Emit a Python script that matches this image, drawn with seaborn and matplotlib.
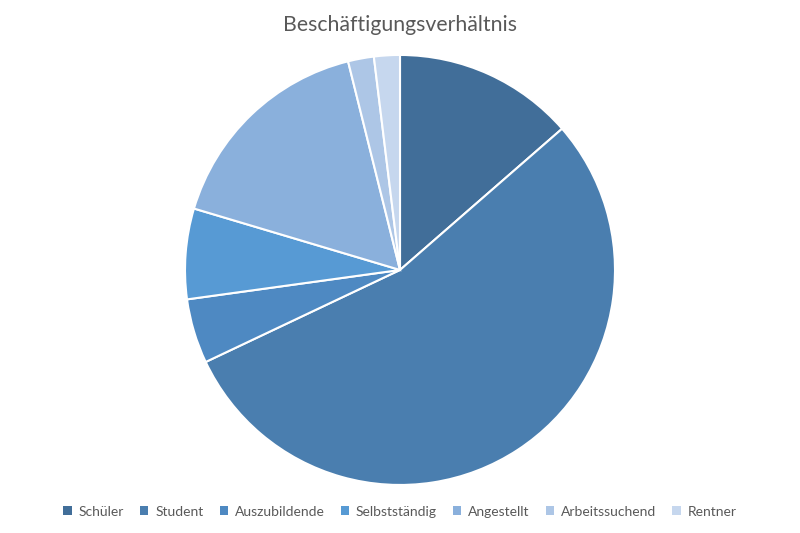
import matplotlib
matplotlib.use("Agg")
import matplotlib.pyplot as plt
import seaborn as sns
from matplotlib.patches import Patch

categories = ["Schüler", "Student", "Auszubildende", "Selbstständig", "Angestellt", "Arbeitssuchend", "Rentner"]
values = [14, 56, 5, 7, 17, 2, 2]
colors = ["#416E99", "#4A7EAF", "#4E89C2", "#579AD4", "#8AB0DC", "#ADC6E6", "#C6D7EE"]
title = "Beschäftigungsverhältnis"

sns.set_theme(style="white")
plt.rcParams['font.family'] = ['Lato', 'DejaVu Sans']

fig = plt.figure(figsize=(8, 5.33), dpi=100)
ax = fig.add_axes([0.23125, 0.09, 0.5375, 0.807])
ax.pie(values, colors=colors, startangle=90, counterclock=False,
       wedgeprops=dict(edgecolor="white", linewidth=1.5), radius=1)
ax.set_xlim(-1, 1)
ax.set_ylim(-1, 1)
ax.set_aspect("equal")
ax.axis("off")

fig.text(0.5, 0.953, title, ha="center", va="center", fontsize=15.3, color="#595959")

handles = [Patch(facecolor=c, edgecolor="none") for c in colors]
fig.legend(handles, categories, loc="center", bbox_to_anchor=(0.5, 0.04), ncol=7,
           frameon=False, fontsize=10, handlelength=0.6, handleheight=0.6,
           handletextpad=0.5, columnspacing=1.15, labelcolor="#595959")

fig.savefig("out.png", dpi=100, facecolor="white")
